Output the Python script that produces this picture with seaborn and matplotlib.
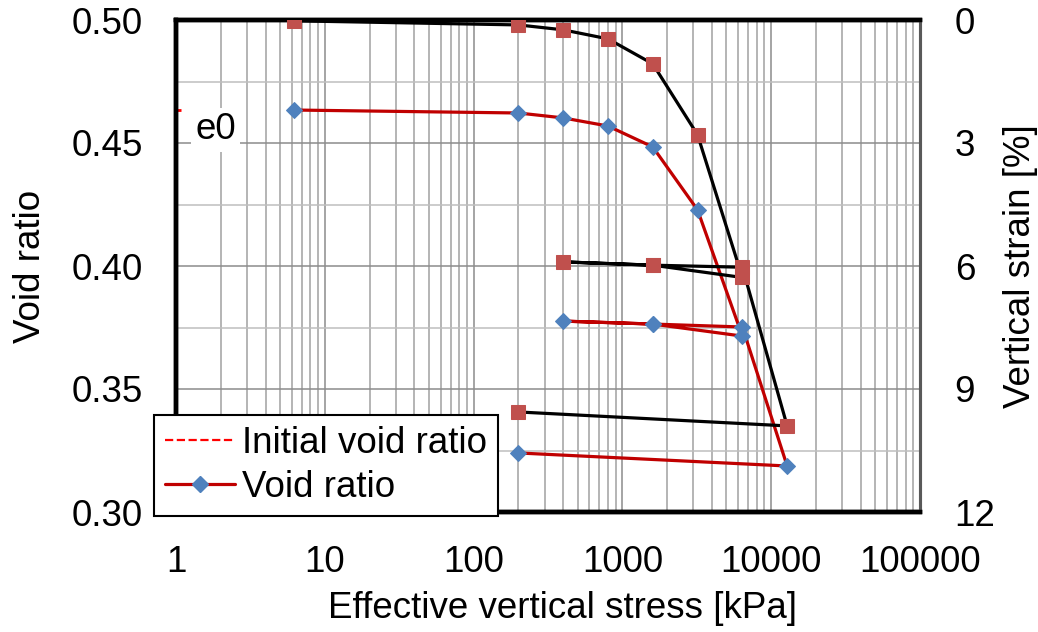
import matplotlib
matplotlib.use("Agg")
import matplotlib.pyplot as plt
from matplotlib.lines import Line2D
from matplotlib.ticker import FixedLocator, NullFormatter, LogLocator
import seaborn as sns
import pandas as pd
import numpy as np

# ---- data ----
stress_kpa = [6.25, 200, 400, 800, 1600, 3200, 6400, 1600, 400, 1600, 6400, 12800, 200]
void_ratio = [0.4634, 0.4622, 0.4602, 0.4569, 0.4484, 0.4228, 0.3715, 0.3764, 0.3776,
              0.3764, 0.3752, 0.3187, 0.3240]
strain_pct = [0.02, 0.12, 0.24, 0.46, 1.07, 2.80, 6.28, 5.98, 5.90, 5.98, 6.03, 9.90, 9.56]
e0_value = 0.4634
e0_x = [1.0, 1.08]
e0_label = "e0"

x_ticks = [1, 10, 100, 1000, 10000, 100000]
x_tick_labels = ["1", "10", "100", "1000", "10000", "100000"]
y_ticks = [0.30, 0.35, 0.40, 0.45, 0.50]
y_tick_labels = ["0.30", "0.35", "0.40", "0.45", "0.50"]
strain_ticks = [0, 3, 6, 9, 12]

df = pd.DataFrame({"stress": stress_kpa, "e": void_ratio, "strain": strain_pct})
df_e0 = pd.DataFrame({"stress": e0_x, "e": [e0_value] * len(e0_x)})

sns.set_style("white")
plt.rcParams["font.family"] = ["Liberation Sans", "DejaVu Sans"]
for k in ("text.color", "axes.labelcolor", "xtick.color", "ytick.color"):
    plt.rcParams[k] = "black"
FS = 26.5

fig = plt.figure(figsize=(10.38, 6.32), dpi=100)
ax = fig.add_axes([176 / 1038, 1 - 512 / 632, (920 - 176) / 1038, (512 - 20) / 632])
ax2 = ax.twinx()

RED = "#C00000"
BLUE = "#4F81BD"
SQ = "#C0504D"

ax.set_xscale("log")
ax.set_xlim(1, 100000)
ax.set_ylim(0.30, 0.50)
ax2.set_ylim(12, 0)

# grid
ax.xaxis.set_major_locator(FixedLocator(x_ticks))
ax.xaxis.set_minor_locator(LogLocator(base=10, subs=np.arange(2, 10)))
ax.xaxis.set_minor_formatter(NullFormatter())
ax.set_xticks(x_ticks)
ax.set_xticklabels(x_tick_labels)
ax.set_yticks(y_ticks)
ax.set_yticklabels(y_tick_labels)
ax.set_yticks(np.arange(0.325, 0.5, 0.05), minor=True)
ax.grid(True, which="major", axis="both", color="#8C8C8C", linewidth=1.1)
ax.grid(True, which="minor", axis="x", color="#A0A0A0", linewidth=1.1)
ax.grid(True, which="minor", axis="y", color="#BFBFBF", linewidth=1.1)
ax.set_axisbelow(True)

sns.lineplot(data=df_e0, x="stress", y="e", ax=ax, color="#FF0000", linestyle="--",
             linewidth=2, sort=False, estimator=None, legend=False)
sns.lineplot(data=df, x="stress", y="e", ax=ax, color=RED, linewidth=2.3, sort=False,
             estimator=None, marker="D", markersize=8, markerfacecolor=BLUE,
             markeredgecolor=BLUE, legend=False, zorder=3)
sns.lineplot(data=df, x="stress", y="strain", ax=ax2, color="black", linewidth=2.3,
             sort=False, estimator=None, marker="s", markersize=10, markerfacecolor=SQ,
             markeredgecolor=SQ, legend=False, zorder=3)

ax.text(1.85, 0.4553, e0_label, fontsize=FS, ha="center", va="center",
        bbox=dict(facecolor="white", edgecolor="none", pad=3), zorder=4)

ax2.set_yticks(strain_ticks)
ax2.set_yticklabels([str(t) for t in strain_ticks])
ax2.grid(False)

for a in (ax, ax2):
    a.tick_params(axis="both", which="both", length=0, labelsize=FS, colors="black")
    for s in ("left", "top", "bottom"):
        a.spines[s].set_color("black")
        a.spines[s].set_linewidth(3.2)
    a.spines["right"].set_color("#595959")
    a.spines["right"].set_linewidth(2.2)
ax.tick_params(axis="y", pad=24)
ax.tick_params(axis="x", pad=24)
ax2.tick_params(axis="y", pad=25)

ax.set_xlabel("Effective vertical stress [kPa]", fontsize=FS)
ax.set_ylabel("Void ratio", fontsize=FS)
ax2.set_ylabel("Vertical strain [%]", fontsize=FS)
ax.xaxis.set_label_coords((562 - 176) / 744, (512 - 608) / 492)
ax.yaxis.set_label_coords((30 - 176) / 744, 0.5)
ax2.yaxis.set_label_coords((1020 - 176) / 744, 0.5)
ax.xaxis.label.set_va("center")
ax.yaxis.label.set_va("center")
ax2.yaxis.label.set_va("center")

handles = [
    Line2D([], [], color="#FF0000", linestyle="--", linewidth=1.6),
    Line2D([], [], color=RED, linewidth=2.3, marker="D", markersize=8,
           markerfacecolor=BLUE, markeredgecolor=BLUE),
]
leg = fig.legend(handles, ["Initial void ratio", "Void ratio"], loc="lower left",
                 bbox_to_anchor=(154 / 1038, 1 - 516 / 632), fontsize=FS,
                 frameon=True, fancybox=False, framealpha=1, edgecolor="black",
                 handlelength=1.9, handletextpad=0.2, borderpad=0.3,
                 labelspacing=0.25, borderaxespad=0)
leg.get_frame().set_linewidth(1.5)

fig.savefig("out.png", dpi=100)
